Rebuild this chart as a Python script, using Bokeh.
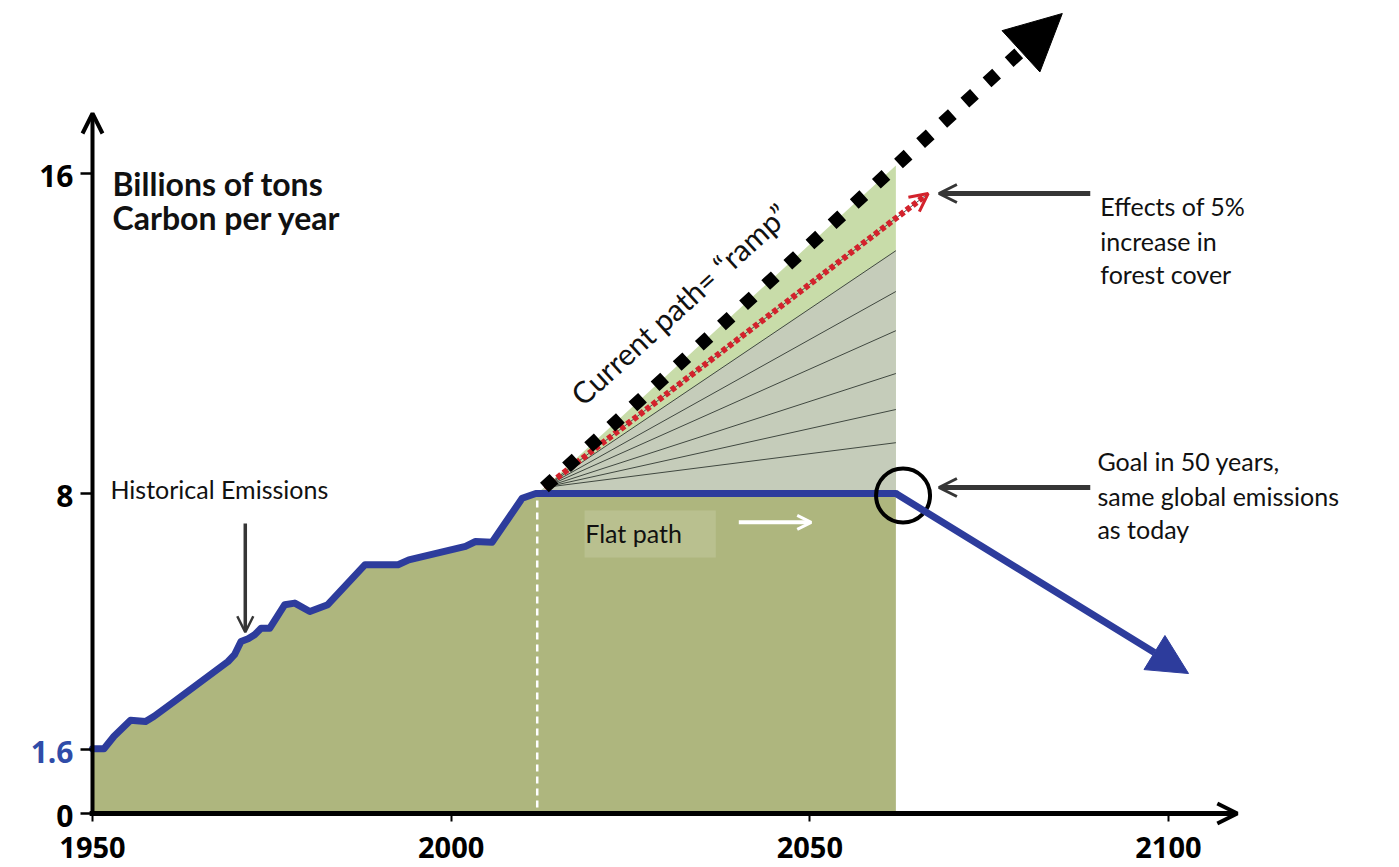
from bokeh.plotting import figure
from bokeh.models import (Range1d, FixedTicker, CustomJSTickFormatter, Arrow, OpenHead,
                          NormalHead, Label, BoxAnnotation)
from bokeh.embed import file_html
from bokeh.resources import INLINE

# ---------------- data ----------------
hist_years = [1950, 1951.6, 1953, 1955.3, 1957.4, 1958.6, 1961.4, 1968.9, 1969.8, 1970.7,
              1971.7, 1972.6, 1973.5, 1974.7, 1976.8, 1978.2, 1980.3, 1982.8, 1988.0,
              1992.6, 1994.1, 2002.0, 2003.4, 2005.7, 2009.9, 2011.8]
hist_vals = [1.62, 1.62, 1.93, 2.33, 2.3, 2.43, 2.8, 3.8, 3.97, 4.3,
             4.37, 4.47, 4.63, 4.63, 5.22, 5.26, 5.05, 5.22, 6.22,
             6.22, 6.34, 6.68, 6.8, 6.78, 7.88, 8.0]
flat_years = [2012, 2062]
flat_vals = [8.0, 8.0]
decline_years = [2062, 2102.8]
decline_vals = [8.0, 3.5]

ramp_years = [2013, 2085.2]
ramp_vals = [8.15, 20.0]
ramp_top_2062 = 16.2
forest_years = [2013, 2066.5]
forest_vals = [8.15, 15.5]
fan_end_year = 2062
fan_end_vals = [14.07, 13.05, 12.07, 11.0, 10.1, 9.27]
today_year = 2012
goal_year, goal_val = 2063, 7.95

x_ticks = [1950, 2000, 2050, 2100]
x_tick_labels = ["1950", "2000", "2050", "2100"]
y_ticks = [0, 1.6, 8, 16]
y_tick_labels = ["0", "1.6", "8", "16"]

# ---------------- styles ----------------
OLIVE = "#AEB67E"
GRAY = "#C5CCBA"
LGREEN = "#C8DCA9"
BLUE = "#2D3C9C"
LBLUE = "#2F4CA8"
RED = "#D3222C"
DARK = "#363636"

PX_PER_YEAR = 7.173
PX_PER_UNIT = 40.0
X0_PX, Y0_PX = 92, 813          # where (1950, 0) sits on the canvas
FW, FH, TOP = 1389, 860, 6

x_start = 1950 - X0_PX / PX_PER_YEAR
y_end = (Y0_PX - TOP) / PX_PER_UNIT
y_start = y_end - FH / PX_PER_UNIT

p = figure(frame_width=FW, frame_height=FH,
           x_range=Range1d(x_start, x_start + FW / PX_PER_YEAR),
           y_range=Range1d(y_start, y_end),
           x_axis_location="above", y_axis_location="right",
           output_backend="svg", toolbar_location=None,
           min_border_left=0, min_border_right=6, min_border_top=TOP, min_border_bottom=0)
p.outline_line_color = None
p.grid.visible = False
p.background_fill_color = "white"

# fan / ramp areas
p.patch([today_year, ramp_years[0], fan_end_year, fan_end_year],
        [flat_vals[0], ramp_vals[0], ramp_top_2062, flat_vals[1]],
        fill_color=LGREEN, line_color=None)
p.patch([today_year, ramp_years[0], fan_end_year, fan_end_year],
        [flat_vals[0], ramp_vals[0], fan_end_vals[0], flat_vals[1]],
        fill_color=GRAY, line_color=None)
for v in fan_end_vals:
    p.line([ramp_years[0], fan_end_year], [ramp_vals[0], v], line_color="#404840", line_width=1)
p.line(forest_years, forest_vals, line_color="#505050", line_width=1)

# olive area under emissions
all_years = hist_years + flat_years
all_vals = hist_vals + flat_vals
p.varea(x=all_years, y1=0, y2=all_vals, fill_color=OLIVE)

# white dashed "today" line
p.line([today_year, today_year], [0.15, 7.85], line_color="white", line_width=2.5, line_dash="7 5")

# blue emission path
p.line(all_years, all_vals, line_color=BLUE, line_width=7, line_join="round", line_cap="round")
p.add_layout(Arrow(x_start=decline_years[0], y_start=decline_vals[0],
                   x_end=decline_years[1], y_end=decline_vals[1],
                   line_color=BLUE, line_width=7, line_cap="butt",
                   end=NormalHead(size=40, fill_color=BLUE, line_color=BLUE)))

# red forest path
p.add_layout(Arrow(x_start=forest_years[0], y_start=forest_vals[0],
                   x_end=forest_years[1], y_end=forest_vals[1],
                   line_color=RED, line_width=6, line_dash="5 3",
                   end=OpenHead(size=18, line_color=RED, line_width=3)))

# black ramp
p.add_layout(Arrow(x_start=ramp_years[0], y_start=ramp_vals[0],
                   x_end=ramp_years[1], y_end=ramp_vals[1],
                   line_color="black", line_width=13, line_dash="13 17",
                   end=NormalHead(size=56, fill_color="black", line_color="black")))

# goal circle
p.scatter([goal_year], [goal_val], marker="circle", size=54, fill_color=None,
          line_color="black", line_width=4)

# axes (ticks from Bokeh, fixed at 1950 / 0)
blank = CustomJSTickFormatter(code="return '';")
p.xaxis.fixed_location = 0
p.xaxis.ticker = FixedTicker(ticks=x_ticks)
p.xaxis.formatter = blank
p.xaxis.axis_line_color = None
p.xaxis.major_tick_out = 0
p.xaxis.major_tick_in = 8
p.xaxis.major_tick_line_width = 2
p.xaxis.minor_tick_line_color = None
p.xaxis.major_label_text_font_size = "1px"
p.xaxis.major_label_text_color = None
p.xaxis.major_label_standoff = 0

p.yaxis.fixed_location = 1950
p.yaxis.ticker = FixedTicker(ticks=y_ticks)
p.yaxis.formatter = blank
p.yaxis.axis_line_color = None
p.yaxis.major_tick_out = 0
p.yaxis.major_tick_in = 12
p.yaxis.major_tick_line_width = 2.5
p.yaxis.minor_tick_line_color = None
p.yaxis.major_label_text_font_size = "1px"
p.yaxis.major_label_text_color = None
p.yaxis.major_label_standoff = 0

# tick labels
for t, s in zip(x_ticks, x_tick_labels):
    p.add_layout(Label(x=t, y=0, y_offset=-34, text=s, text_align="center",
                       text_baseline="middle", text_font="Open Sans",
                       text_font_style="bold", text_font_size="29px", text_color="black"))
for t, s in zip(y_ticks, y_tick_labels):
    p.add_layout(Label(x=1950, y=t, x_offset=-19, y_offset=-2, text=s, text_align="right",
                       text_baseline="middle", text_font="Open Sans", text_font_style="bold",
                       text_font_size="30px",
                       text_color=LBLUE if s == "1.6" else "black"))

# axis lines with arrows
p.add_layout(Arrow(x_start=1949.6, y_start=0, x_end=2109.6, y_end=0, line_color="black",
                   line_width=5, end=OpenHead(size=20, line_width=4, line_color="black")))
p.add_layout(Arrow(x_start=1950, y_start=-0.05, x_end=1950, y_end=17.5, line_color="black",
                   line_width=4, end=OpenHead(size=20, line_width=4, line_color="black")))

# pointer arrows
p.add_layout(Arrow(x_start=1971.3, y_start=7.25, x_end=1971.3, y_end=4.53, line_color=DARK,
                   line_width=3.5, end=OpenHead(size=16, line_width=2.5, line_color=DARK)))
p.add_layout(Arrow(x_start=2089.1, y_start=15.5, x_end=2068.0, y_end=15.5, line_color=DARK,
                   line_width=5, end=OpenHead(size=18, line_width=3, line_color=DARK)))
p.add_layout(Arrow(x_start=2089.1, y_start=8.15, x_end=2068.0, y_end=8.15, line_color=DARK,
                   line_width=5, end=OpenHead(size=18, line_width=3, line_color=DARK)))

# flat path label box + white arrow
p.add_layout(BoxAnnotation(left=2018.6, right=2036.9, bottom=6.4, top=7.575,
                           fill_color="#B9C08F", fill_alpha=1, line_color=None))
p.add_layout(Arrow(x_start=2040.1, y_start=7.28, x_end=2050.2, y_end=7.28, line_color="white",
                   line_width=4, end=OpenHead(size=14, line_width=3, line_color="white")))


def lab(x, y, t, size="26px", style="normal", angle=0.0):
    p.add_layout(Label(x=x, y=y, text=t, text_font="Lato", text_font_size=size,
                       text_font_style=style, text_color="#111111", text_align="left",
                       text_baseline="alphabetic", angle=angle))


lab(1952.8, 15.75, "Billions of tons", size="32px", style="bold")
lab(1952.8, 14.9, "Carbon per year", size="32px", style="bold")
lab(1952.5, 8.125, "Historical Emissions", size="25px")
lab(2090.5, 15.2, "Effects of 5%", size="25px")
lab(2090.5, 14.325, "increase in", size="25px")
lab(2090.5, 13.5, "forest cover", size="25px")
lab(2090.1, 8.825, "Goal in 50 years,", size="25px")
lab(2090.1, 7.95, "same global emissions", size="25px")
lab(2090.1, 7.125, "as today", size="25px")
lab(2018.7, 7.025, "Flat path", size="25px")
lab(2017.3, 10.375, "Current path= \u201cramp\u201d", size="30px", angle=0.738)

open("out.html", "w").write(file_html(p, INLINE))
